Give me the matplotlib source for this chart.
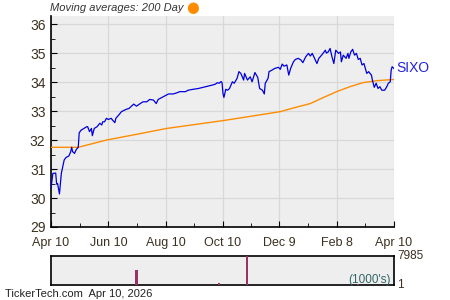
import matplotlib
matplotlib.use("Agg")
import matplotlib.pyplot as plt
from matplotlib.ticker import MultipleLocator, FixedLocator

plt.rcParams['font.family'] = ['Liberation Sans', 'DejaVu Sans']

# day offsets from Apr 10, 2025
price_days = [0, 2, 5, 6, 7, 9, 11, 14, 16, 19, 21, 22, 23, 25, 27, 29, 30, 32, 35, 38,
              39, 41, 43, 44, 46, 49, 52, 54, 55, 57, 59, 61, 64, 66, 68, 69, 72, 75, 78, 80,
              83, 85, 88, 91, 95, 98, 102, 105, 109, 112, 114, 118, 121, 125, 130, 134, 137, 143, 146, 151,
              157, 162, 167, 172, 175, 177, 179, 181, 182, 183, 184, 186, 188, 190, 193, 195, 198, 200, 202, 205,
              206, 209, 212, 214, 217, 220, 222, 225, 227, 228, 231, 232, 235, 238, 242, 244, 246, 248, 251, 253,
              255, 258, 260, 263, 266, 268, 271, 274, 276, 278, 280, 283, 285, 288, 292, 293, 295, 297, 299, 301,
              303, 306, 308, 309, 311, 314, 316, 317, 319, 321, 323, 325, 327, 329, 331, 333, 336, 338, 341, 342,
              344, 346, 348, 350, 352, 355, 357, 359, 361, 362, 363, 365]
price_vals = [30.33, 30.85, 30.86, 30.48, 30.50, 30.14, 30.85, 31.31, 31.40, 31.45, 31.60, 31.75, 31.60, 31.54, 31.68, 31.75, 32.25, 32.34, 32.40, 32.46,
              32.46, 32.29, 32.40, 32.15, 32.40, 32.46, 32.58, 32.52, 32.63, 32.63, 32.75, 32.71, 32.75, 32.67, 32.60, 32.75, 32.86, 32.98, 33.03, 33.06,
              33.09, 33.15, 33.24, 33.17, 33.26, 33.32, 33.32, 33.40, 33.38, 33.26, 33.40, 33.47, 33.52, 33.59, 33.59, 33.63, 33.67, 33.67, 33.72, 33.75,
              33.78, 33.82, 33.86, 33.90, 33.93, 33.98, 33.96, 34.02, 33.98, 33.61, 33.47, 33.75, 33.72, 33.78, 34.01, 33.96, 34.13, 34.36, 34.30, 34.07,
              34.30, 34.07, 34.18, 34.01, 34.33, 34.16, 33.78, 33.72, 33.59, 33.96, 34.13, 34.36, 34.41, 34.47, 34.51, 34.44, 34.62, 34.55, 34.59, 34.24,
              34.47, 34.70, 34.78, 34.82, 34.76, 34.67, 34.87, 34.99, 34.90, 34.99, 34.85, 34.64, 34.82, 34.93, 35.10, 35.00, 35.04, 35.16, 34.87, 34.64,
              35.10, 34.99, 35.04, 34.70, 34.93, 34.82, 34.99, 34.82, 35.04, 35.13, 34.93, 34.99, 34.78, 34.82, 34.59, 34.64, 34.30, 34.36, 34.24, 34.07,
              33.82, 33.96, 33.78, 33.84, 33.72, 33.72, 33.82, 33.96, 34.01, 34.41, 34.53, 34.47]

ma_days = [0, 29, 59, 93, 123, 185, 244, 256, 276, 290, 304, 318, 332, 347, 365]
ma_vals = [31.75, 31.75, 32.00, 32.21, 32.40, 32.68, 32.98, 33.09, 33.26, 33.47, 33.67, 33.84, 33.98, 34.05, 34.09]

vol_days = [91, 179, 209, 327]
vol_vals = [4150, 630, 7985, 150]

xtick_days = [0, 61, 122, 183, 243, 304, 365]
xtick_labels = ["Apr 10", "Jun 10", "Aug 10", "Oct 10", "Dec 9", "Feb 8", "Apr 10"]
ytick_vals = [29, 30, 31, 32, 33, 34, 35, 36]

txt = "#3b3020"
bg = "#eeeeee"
grid = "#d8d8d8"

fig = plt.figure(figsize=(4.5, 3.0), dpi=100)
ax = fig.add_axes([51/450, 1-227/300, 343/450, 211/300])
ax.set_facecolor(bg)
ax.plot(ma_days, ma_vals, color="#ff8c00", lw=1.0, zorder=3)
ax.plot(price_days, price_vals, color="#0000dd", lw=0.9, zorder=4)
ax.set_xlim(0, 365)
ax.set_ylim(29, 36.28)
ax.set_xticks(xtick_days)
ax.set_xticklabels(xtick_labels)
ax.xaxis.set_minor_locator(FixedLocator([(a + b) / 2 for a, b in zip(xtick_days[:-1], xtick_days[1:])]))
ax.set_yticks(ytick_vals)
ax.yaxis.set_minor_locator(MultipleLocator(0.5))
ax.grid(True, which="major", color=grid, lw=0.9, zorder=0)
for s in ["top", "right"]:
    ax.spines[s].set_visible(False)
for s in ["left", "bottom"]:
    ax.spines[s].set_color("black")
    ax.spines[s].set_linewidth(1.2)
ax.tick_params(axis="both", which="both", direction="in", color="black")
ax.tick_params(axis="both", which="major", length=4)
ax.tick_params(axis="both", which="minor", length=3)
ax.tick_params(axis="y", labelsize=10, labelcolor=txt, pad=4)
ax.tick_params(axis="x", labelsize=9, labelcolor=txt, pad=7)
ax.set_axisbelow(True)

ax.text(1.008, price_vals[-1], "SIXO", transform=ax.get_yaxis_transform(), color="#2222dd",
        fontsize=10, va="center", ha="left")
fig.text(50/450, 1-8/300, "Moving averages: 200 Day", fontsize=8, style="italic",
         color="#333333", va="center", ha="left")
fig.text(193/450, 1-7.5/300, "\u25cf", color="#ff8c00", fontsize=10.5, va="center", ha="center",
         family="DejaVu Sans")

vax = fig.add_axes([51/450, 1-285/300, 343/450, 29/300])
vax.set_facecolor(bg)
vax.bar(vol_days, vol_vals, width=2.2, color="#993366", zorder=3)
vax.set_xlim(0, 365)
vax.set_ylim(0, 7985)
vax.set_xticks([])
vax.set_yticks([])
for s in vax.spines.values():
    s.set_color("black")
    s.set_linewidth(1.2)
vax.text(1.01, 1.0, "7985", transform=vax.transAxes, fontsize=8.5, color=txt, va="center", ha="left")
vax.text(1.01, 0.0, "1", transform=vax.transAxes, fontsize=8.5, color=txt, va="center", ha="left")
vax.text(0.99, -0.05, "(1000's)", transform=vax.transAxes, fontsize=8.5, color="#336666", va="bottom", ha="right")

fig.text(5/450, 1-294/300, "TickerTech.com  Apr 10, 2026", fontsize=8, color="#222222", va="center", ha="left")

fig.savefig("out.png", dpi=100)
